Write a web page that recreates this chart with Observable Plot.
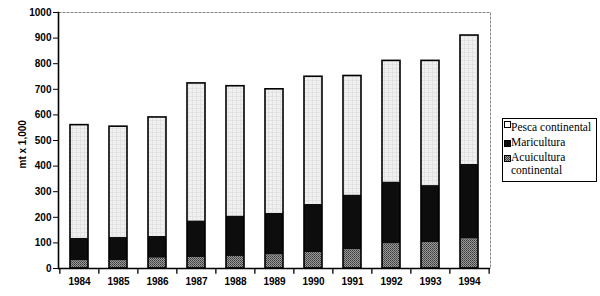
<!DOCTYPE html>
<html>
<head>
<meta charset="utf-8">
<script src="https://cdn.jsdelivr.net/npm/d3@7"></script>
<script src="https://cdn.jsdelivr.net/npm/@observablehq/plot@0.6"></script>
<style>
  html, body { margin: 0; padding: 0; background: #fff; }
  #wrap { position: relative; width: 600px; height: 296px; }
  #legend {
    position: absolute; left: 502px; top: 118px; width: 95px; height: 64px;
    border: 1px solid #000; box-sizing: border-box; background: #fff;
    font-family: "Liberation Serif", "DejaVu Serif", "Times New Roman", serif; font-size: 11.5px; color: #000;
  }
  .item { position: absolute; left: 8px; line-height: 13px; white-space: nowrap;
    font-family: "Liberation Serif", "DejaVu Serif", serif; }
  .sw { position: absolute; width: 7px; height: 7px; left: 1px; box-sizing: border-box; }
</style>
</head>
<body>
<div id="wrap"></div>
<script>
const years = ["1984","1985","1986","1987","1988","1989","1990","1991","1992","1993","1994"];
const acuicultura = [30, 30, 40, 43, 47, 53, 62, 73, 96, 101, 115];
const maricultura = [88, 91, 85, 143, 158, 162, 188, 214, 242, 223, 292];
const pesca = [442, 433, 465, 537, 507, 485, 499, 465, 473, 487, 503];
const seriesNames = ["Acuicultura continental", "Maricultura", "Pesca continental"];
const yTicks = [0, 100, 200, 300, 400, 500, 600, 700, 800, 900, 1000];
const yLabel = "mt x 1,000";

const seriesValues = [acuicultura, maricultura, pesca];
const data = years.flatMap((yr, i) => seriesNames.map((s, k) => ({year: yr, series: s, value: seriesValues[k][i]})));
const totals = years.map((yr, i) => ({year: yr, total: acuicultura[i] + maricultura[i] + pesca[i]}));

const plotW = 600 - 58 - 110;
const step = plotW / years.length;

const chart = Plot.plot({
  width: 600, height: 296,
  marginLeft: 58, marginRight: 110, marginTop: 12, marginBottom: 28,
  style: {fontFamily: "'Liberation Sans', Arial, sans-serif", fontSize: "10px", background: "white", color: "black"},
  x: {domain: years, paddingInner: 0.54, paddingOuter: 0.27, label: null},
  y: {domain: [0, 1000], label: null},
  color: {domain: seriesNames, range: ["url(#pat-acui)", "#0d0d0d", "url(#pat-pesca)"]},
  marks: [
    Plot.frame({stroke: "#888", strokeDasharray: "3,1"}),
    Plot.barY(data, {x: "year", y: "value", fill: "series", order: seriesNames}),
    Plot.barY(totals, {x: "year", y: "total", fill: "none", stroke: "black", strokeWidth: 1.6}),
    Plot.ruleX(years, {x: d => d, y1: 0, y2: -22, dx: -step / 2, stroke: "black", strokeWidth: 1.3}),
    Plot.ruleX([years[years.length - 1]], {x: d => d, y1: 0, y2: -22, dx: step / 2, stroke: "black", strokeWidth: 1.3}),
    Plot.ruleY([0], {stroke: "black", strokeWidth: 1.6}),
    Plot.frame({anchor: "left", stroke: "black", strokeWidth: 1.6}),
    Plot.axisY({ticks: yTicks, tickSize: 5, tickPadding: 2, tickFormat: d => String(d), label: null, fontWeight: "bold"}),
    Plot.axisX({tickSize: 0, tickPadding: 9, label: null, fontWeight: "bold"}),
    Plot.text([yLabel], {frameAnchor: "left", dx: -36, dy: 28, rotate: -90, fontSize: 10, fontWeight: "bold"})
  ]
});

// texture patterns
const svg = d3.select(chart);
const defs = svg.insert("defs", ":first-child");
const pp = defs.append("pattern").attr("id", "pat-pesca").attr("patternUnits", "userSpaceOnUse").attr("width", 4).attr("height", 4);
pp.append("rect").attr("width", 4).attr("height", 4).attr("fill", "#f0f0f0");
pp.append("rect").attr("x", 0).attr("y", 0).attr("width", 1).attr("height", 4).attr("fill", "#e2e2e2");
pp.append("rect").attr("x", 0).attr("y", 0).attr("width", 4).attr("height", 1).attr("fill", "#e2e2e2");
const pa = defs.append("pattern").attr("id", "pat-acui").attr("patternUnits", "userSpaceOnUse").attr("width", 2).attr("height", 2);
pa.append("rect").attr("width", 2).attr("height", 2).attr("fill", "#9a9a9a");
pa.append("rect").attr("x", 0).attr("y", 0).attr("width", 1).attr("height", 1).attr("fill", "#3a3a3a");
pa.append("rect").attr("x", 1).attr("y", 1).attr("width", 1).attr("height", 1).attr("fill", "#555");

const wrap = document.getElementById("wrap");
wrap.appendChild(chart);

// legend
const legend = document.createElement("div");
legend.id = "legend";
const items = [
  {name: "Pesca continental", fill: "#fff", top: 2},
  {name: "Maricultura", fill: "#0d0d0d", top: 17},
  {name: "Acuicultura<br>continental", fill: "repeating-conic-gradient(#3a3a3a 0 25%, #9a9a9a 0 50%) 0 0/2px 2px", top: 32}
];
items.forEach(it => {
  const sw = document.createElement("div");
  sw.className = "sw";
  sw.style.top = (it.top + (it.fill === "#fff" ? 0 : 4)) + "px";
  sw.style.background = it.fill;
  sw.style.border = "1px solid #000";
  legend.appendChild(sw);
  const t = document.createElement("div");
  t.className = "item";
  t.style.top = it.top + "px";
  t.innerHTML = it.name;
  legend.appendChild(t);
});
wrap.appendChild(legend);
</script>
</body>
</html>
